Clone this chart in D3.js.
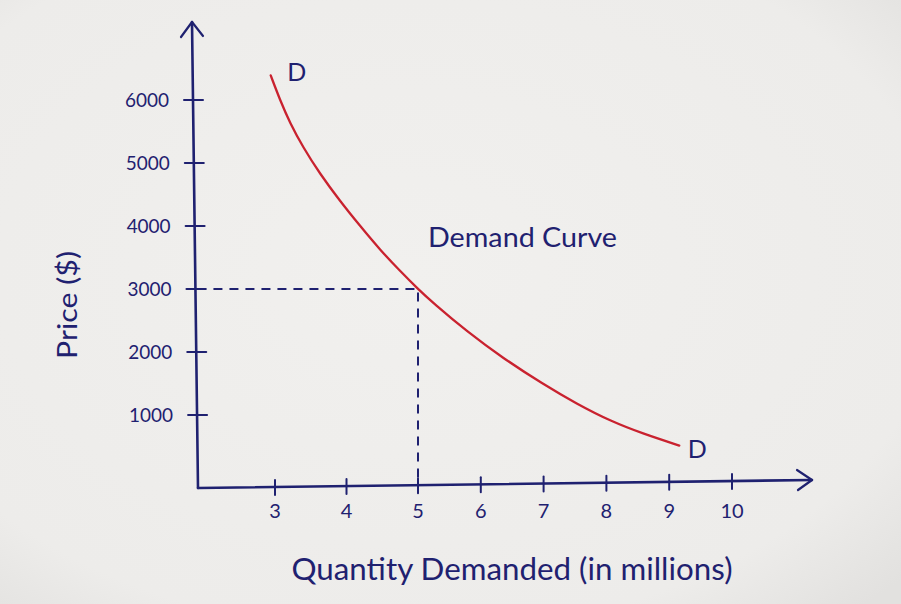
<!DOCTYPE html>
<html>
<head>
<meta charset="utf-8">
<script src="https://cdn.jsdelivr.net/npm/d3@7"></script>
<style>
  html, body { margin: 0; padding: 0; background: #efeeeb; }
  svg { display: block; }
  text { font-family: Lato, "Open Sans", sans-serif; fill: #1f2170; }
</style>
</head>
<body>
<svg id="chart" width="901" height="604"></svg>
<script>
// ---- data ----
const quantity = [2.94, 3.07, 3.21, 3.39, 3.63, 3.91, 4.19, 4.47, 4.75, 5.00, 5.24, 5.78, 6.35, 6.99, 7.53, 8.06, 8.59, 9.16];
const price    = [6390, 6000, 5635, 5255, 4825, 4395, 4000, 3620, 3285, 3000, 2780, 2325, 1905, 1490, 1175,  905,  700,  515];
const xTicks = [3, 4, 5, 6, 7, 8, 9, 10];
const yTicks = [1000, 2000, 3000, 4000, 5000, 6000];
const marked = { q: 5, p: 3000 };
const curveLabel = "Demand Curve";
const curveEndLabel = "D";
const xTitle = "Quantity Demanded (in millions)";
const yTitle = "Price ($)";

const INK = "#1f2170";
const RED = "#c9222f";

const svg = d3.select("#chart");

// paper background with a faint vignette
const defs = svg.append("defs");
const grad = defs.append("radialGradient").attr("id", "paper")
  .attr("cx", "45%").attr("cy", "45%").attr("r", "75%");
grad.append("stop").attr("offset", "0%").attr("stop-color", "#f1f0ee");
grad.append("stop").attr("offset", "80%").attr("stop-color", "#edecea");
grad.append("stop").attr("offset", "100%").attr("stop-color", "#e2e1df");
svg.append("rect").attr("width", 901).attr("height", 604).attr("fill", "url(#paper)");

// scales (hand-drawn axis: tick spacing is uneven, so use a polylinear scale)
const x = d3.scaleLinear().domain([3, 5, 10]).range([275, 418, 732]);
const y = d3.scaleLinear().domain([0, 6000]).range([478, 100]);

// the axes are slightly tilted in the sketch
const axisYBottom = { x: 198, y: 488 };
const axisYTop = { x: 192, y: 22 };
const axisXEnd = { x: 812, y: 480 };
const xAxisY = px => axisYBottom.y + (px - axisYBottom.x) * (axisXEnd.y - axisYBottom.y) / (axisXEnd.x - axisYBottom.x);
const yAxisX = py => axisYBottom.x + (py - axisYBottom.y) * (axisYTop.x - axisYBottom.x) / (axisYTop.y - axisYBottom.y);

const g = svg.append("g")
  .attr("stroke-linecap", "round").attr("stroke-linejoin", "round");

// y axis line + arrow
g.append("line").attr("x1", axisYBottom.x).attr("y1", axisYBottom.y)
  .attr("x2", axisYTop.x).attr("y2", axisYTop.y)
  .attr("stroke", INK).attr("stroke-width", 2.6);
g.append("path")
  .attr("d", `M${axisYTop.x - 11},${axisYTop.y + 15} L${axisYTop.x},${axisYTop.y} L${axisYTop.x + 11},${axisYTop.y + 14}`)
  .attr("fill", "none").attr("stroke", INK).attr("stroke-width", 2.2);

// x axis line + arrow
g.append("line").attr("x1", axisYBottom.x).attr("y1", axisYBottom.y)
  .attr("x2", axisXEnd.x).attr("y2", axisXEnd.y)
  .attr("stroke", INK).attr("stroke-width", 2.6);
g.append("path")
  .attr("d", `M${axisXEnd.x - 15},${axisXEnd.y - 10} L${axisXEnd.x},${axisXEnd.y} L${axisXEnd.x - 14},${axisXEnd.y + 10}`)
  .attr("fill", "none").attr("stroke", INK).attr("stroke-width", 2.2);

// y ticks and labels
const yt = g.append("g").selectAll("g").data(yTicks).join("g");
yt.append("line")
  .attr("x1", d => yAxisX(y(d)) - 9).attr("x2", d => yAxisX(y(d)) + 10)
  .attr("y1", d => y(d)).attr("y2", d => y(d))
  .attr("stroke", INK).attr("stroke-width", 2);
yt.append("text")
  .attr("x", d => yAxisX(y(d)) - 24).attr("y", d => y(d))
  .attr("dy", "0.35em").attr("text-anchor", "end")
  .attr("font-size", 19)
  .attr("textLength", 44).attr("lengthAdjust", "spacingAndGlyphs")
  .text(d => d);

// x ticks and labels
const xt = g.append("g").selectAll("g").data(xTicks).join("g");
xt.append("line")
  .attr("x1", d => x(d)).attr("x2", d => x(d))
  .attr("y1", d => xAxisY(x(d)) - 7).attr("y2", d => xAxisY(x(d)) + 8)
  .attr("stroke", INK).attr("stroke-width", 2);
xt.append("text")
  .attr("x", d => x(d)).attr("y", 511)
  .attr("dy", "0.35em").attr("text-anchor", "middle")
  .attr("font-size", 20)
  .text(d => d);

// dashed guide lines to the marked point
g.append("path")
  .attr("d", `M${yAxisX(y(marked.p)) + 2},${y(marked.p)} L${x(marked.q)},${y(marked.p)} L${x(marked.q)},${xAxisY(x(marked.q)) - 2}`)
  .attr("fill", "none").attr("stroke", INK).attr("stroke-width", 2)
  .attr("stroke-dasharray", "9,7").attr("stroke-linecap", "butt");

// demand curve
const pts = quantity.map((q, i) => [q, price[i]]);
const line = d3.line().x(d => x(d[0])).y(d => y(d[1])).curve(d3.curveBasis);
g.append("path").datum(pts)
  .attr("d", line)
  .attr("fill", "none").attr("stroke", RED).attr("stroke-width", 2.3);

// "D" labels at the curve ends
const first = pts[0], last = pts[pts.length - 1];
svg.append("text").attr("x", x(first[0]) + 26).attr("y", y(first[1]) - 3)
  .attr("text-anchor", "middle").attr("dy", "0.35em")
  .attr("font-size", 25).text(curveEndLabel);
svg.append("text").attr("x", x(last[0]) + 18).attr("y", y(last[1]) + 4)
  .attr("text-anchor", "middle").attr("dy", "0.35em")
  .attr("font-size", 25).text(curveEndLabel);

// curve name
svg.append("text").attr("x", 428).attr("y", 238)
  .attr("dy", "0.35em").attr("font-size", 26)
  .attr("textLength", 189).attr("lengthAdjust", "spacingAndGlyphs")
  .text(curveLabel);

// axis titles
svg.append("text").attr("x", 512).attr("y", 569)
  .attr("dy", "0.35em").attr("text-anchor", "middle")
  .attr("font-size", 31)
  .attr("textLength", 441).attr("lengthAdjust", "spacingAndGlyphs")
  .text(xTitle);
svg.append("text")
  .attr("transform", "translate(68,305) rotate(-90)")
  .attr("dy", "0.35em").attr("text-anchor", "middle")
  .attr("font-size", 26)
  .attr("textLength", 108).attr("lengthAdjust", "spacingAndGlyphs")
  .text(yTitle);
</script>
</body>
</html>
